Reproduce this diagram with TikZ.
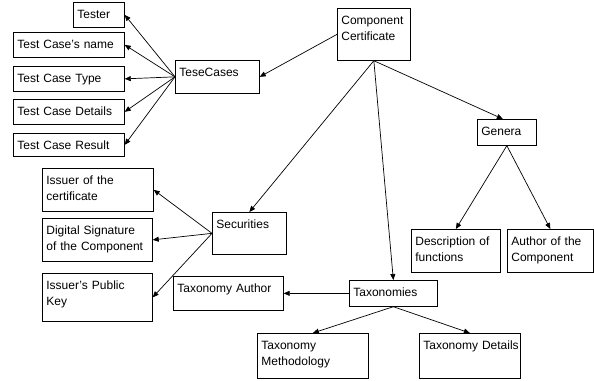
\documentclass[tikz,border=0pt]{standalone}
\usepackage{fontspec}
\setmainfont{Liberation Sans}
\usepackage{tikz}
\usetikzlibrary{arrows.meta}

\begin{document}
\begin{tikzpicture}[
  x=1pt, y=-1pt,
  box/.style 2 args={rectangle,draw,anchor=north west,align=left,line width=0.7pt,
              font=\fontsize{12}{15.5}\selectfont,inner xsep=4pt,inner ysep=3pt,
              text width=#1pt-8pt,text height=13.5pt,text depth=#2pt-19.5pt},
  arrow/.style={-{Triangle[length=6pt,width=5pt]},line width=0.7pt}
]
  \useasboundingbox (0,0) rectangle (594,380);

  % top level
  \node[box={73}{52}]  (cert)    at (337,8)   {Component\\Certificate};
  \node[box={84}{33}]  (cases)   at (175,60)  {TeseCases};
  \node[box={74}{42}]  (secur)   at (212,212) {Securities};
  \node[box={88}{26}]  (taxes)   at (349,280) {Taxonomies};
  \node[box={59}{26}]  (genera)  at (477,119) {Genera};

  % test cases
  \node[box={51}{25}]  (tester)  at (73,2)    {Tester};
  \node[box={111}{25}] (tcname)  at (13,32)   {Test Case's name};
  \node[box={111}{25}] (tctype)  at (13,66)   {Test Case Type};
  \node[box={111}{25}] (tcdet)   at (13,99)   {Test Case Details};
  \node[box={111}{23}] (tcres)   at (13,133)  {Test Case Result};

  % securities
  \node[box={111}{43}] (isscert) at (42,168)  {Issuer of the\\certificate};
  \node[box={110}{43}] (digsig)  at (42,218)  {Digital Signature\\of the Component};
  \node[box={110}{48}] (pubkey)  at (42,273)  {Issuer's Public\\Key};

  % taxonomies
  \node[box={110}{34}] (taxauth) at (173,276) {\mbox{Taxonomy Author}};
  \node[box={111}{45}] (taxmeth) at (257,333) {Taxonomy\\Methodology};
  \node[box={101}{45}] (taxdet)  at (419,333) {\mbox{Taxonomy Details}};

  % genera
  \node[box={89}{43}]  (descfn)  at (411,229) {Description of\\functions};
  \node[box={86}{43}]  (authcmp) at (507,229) {Author of the\\Component};

  \draw[arrow] (cert.west)  -- (cases.east);
  \draw[arrow] (cert.south) -- (secur.north);
  \draw[arrow] (cert.south) -- (taxes.north);
  \draw[arrow] (cert.south) -- ([xshift=-4pt]genera.north);

  \draw[arrow] (cases.west) -- (tester.east);
  \draw[arrow] (cases.west) -- (tcname.east);
  \draw[arrow] (cases.west) -- (tctype.east);
  \draw[arrow] (cases.west) -- (tcdet.east);
  \draw[arrow] (cases.west) -- (tcres.east);

  \draw[arrow] (secur.west) -- (isscert.east);
  \draw[arrow] (secur.west) -- (digsig.east);
  \draw[arrow] (secur.west) -- (pubkey.east);

  \draw[arrow] (taxes.west)  -- (taxauth.east);
  \draw[arrow] (taxes.south) -- (taxmeth.north);
  \draw[arrow] (taxes.south) -- (taxdet.north);

  \draw[arrow] (genera.south) -- (descfn.north);
  \draw[arrow] (genera.south) -- (authcmp.north);
\end{tikzpicture}
\end{document}
